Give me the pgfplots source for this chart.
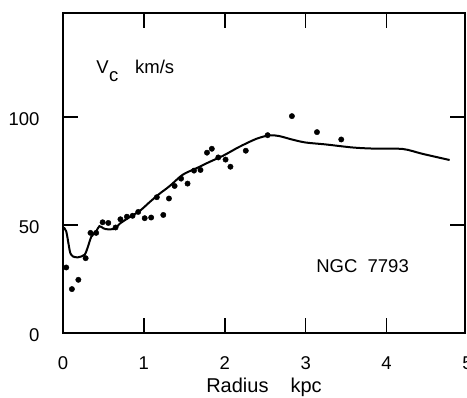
\documentclass[border=0pt]{standalone}
\usepackage{pgfplots}
\pgfplotsset{compat=1.18}
\usepackage{fontspec}
\setmainfont{Liberation Sans}
\newcommand{\lbl}{\fontsize{18.5}{19}\selectfont}
\begin{document}
\begin{tikzpicture}
\begin{axis}[
  at={(0pt,0pt)}, anchor=south west,
  scale only axis, width=402pt, height=320pt,
  xmin=0, xmax=4.97, ymin=0, ymax=148,
  axis line style={line width=1.6pt},
  xtick={0,1,2,3,4}, ytick={0,50,100},
  tick align=inside, major tick length=15pt,
  tick style={line width=1.5pt, black},
  clip=false,
  /pgf/number format/assume math mode=true,
  ticklabel style={font=\lbl},
  xticklabel style={yshift=-20pt},
  yticklabel style={xshift=-20pt, yshift=-2pt},
  xlabel={Radius\hspace{1.1em}kpc},
  xlabel style={font=\fontsize{20}{20}\selectfont, yshift=-1.5pt},
]
\addplot[line width=2pt, smooth, tension=0.5] coordinates {
(0.008,48.8) (0.04,47) (0.074,40) (0.09,37) (0.123,35.4) (0.185,35) (0.267,36.2)
(0.309,40) (0.35,44.5) (0.41,47) (0.45,49.4) (0.50,48.4) (0.535,48) (0.64,48.2)
(0.70,50.5) (0.82,53.5) (0.95,56.5) (1.07,60.5) (1.19,64.3) (1.32,68)
(1.48,73.2) (1.65,76.2) (1.81,79.1) (1.98,82) (2.18,86.1) (2.39,89.8)
(2.55,91.4) (2.67,91.1) (2.84,89.4) (3.00,88.1) (3.25,87.2) (3.58,85.8)
(3.83,85.3) (4.20,85.1) (4.44,82.9) (4.78,80.0)
};
\addplot[only marks, mark=*, mark size=2.7pt] coordinates {
(0.04,30.3) (0.11,20.3) (0.19,24.6) (0.28,34.6) (0.34,46.3) (0.41,46.3)
(0.49,51.2) (0.56,50.9) (0.65,48.8) (0.71,52.6) (0.79,53.8) (0.86,54.2)
(0.93,56) (1.01,53.1) (1.09,53.4) (1.16,62.8) (1.24,54.6) (1.31,62.2)
(1.38,68) (1.46,71.4) (1.54,69.1) (1.62,75.1) (1.70,75.4) (1.78,83.4)
(1.84,85.2) (1.92,81.2) (2.01,80.2) (2.07,76.9) (2.26,84.3) (2.53,91.5)
(2.83,100.3) (3.14,92.9) (3.44,89.5)
};
\node[anchor=base west, font=\lbl, inner sep=0pt] at (axis cs:0.41,120)
  {V\kern0.5pt\raisebox{-8pt}{c}\hspace{0.9em}km/s};
\node[anchor=base west, font=\lbl, inner sep=0pt] at (axis cs:3.13,28)
  {NGC\hspace{0.55em}7793};
\node[anchor=north, font=\lbl, yshift=-20pt] at (axis cs:5,0) {5};
\end{axis}
\pgfresetboundingbox
\path[use as bounding box] (-63pt,-65pt) rectangle (404pt,333pt);
\end{tikzpicture}
\end{document}
